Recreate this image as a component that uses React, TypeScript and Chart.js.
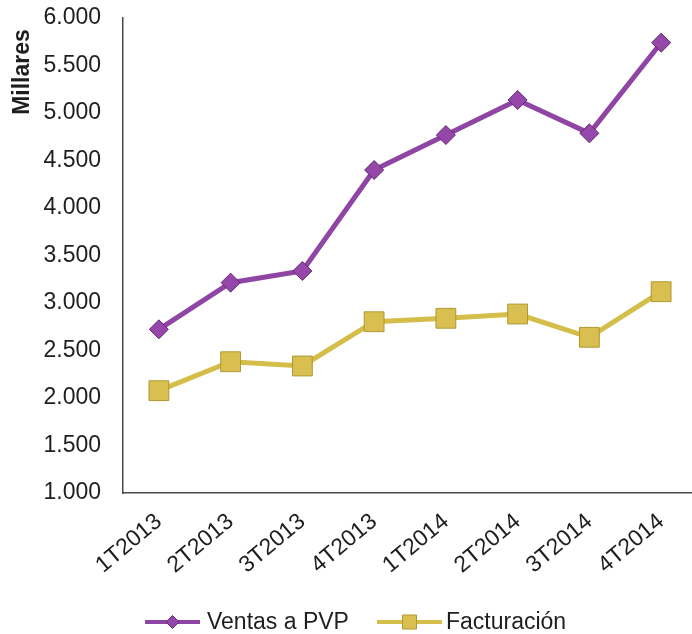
import React, { useEffect, useRef } from "react";
import { Chart, registerables } from "chart.js";

Chart.register(...registerables);

// ---- data ----
const categories = ["1T2013", "2T2013", "3T2013", "4T2013", "1T2014", "2T2014", "3T2014", "4T2014"];
const ventasPVP = [2723, 3214, 3337, 4400, 4768, 5137, 4786, 5740];
const facturacion = [2077, 2382, 2337, 2803, 2839, 2884, 2639, 3119];
const seriesNames = ["Ventas a PVP", "Facturación"];
const yAxisTitle = "Millares";
const yMin = 1000;
const yMax = 6000;
const yStep = 500;

// ---- styles ----
const FONT = '"Liberation Sans", Arial, Helvetica, sans-serif';
const TEXT = "#1e1e1e";
const AXIS = "#4a4a4a";
const PURPLE_LINE = "#8e45a3";
const PURPLE_FILL = "#9548aa";
const PURPLE_EDGE = "#62296f";
const GOLD_LINE = "#d5bd4a";
const GOLD_FILL = "#d8bf50";
const GOLD_EDGE = "#b09830";

const formatTick = (v: number) => (v / 1000).toFixed(3);

function drawDiamond(ctx: CanvasRenderingContext2D, x: number, y: number, r: number) {
  ctx.beginPath();
  ctx.moveTo(x - r, y);
  ctx.lineTo(x, y - r);
  ctx.lineTo(x + r, y);
  ctx.lineTo(x, y + r);
  ctx.closePath();
}

function drawSquare(ctx: CanvasRenderingContext2D, x: number, y: number, h: number) {
  ctx.beginPath();
  ctx.rect(x - h, y - h, 2 * h, 2 * h);
}

const overlayPlugin = {
  id: "overlay",
  afterDraw(chart: any) {
    const ctx: CanvasRenderingContext2D = chart.ctx;
    const area = chart.chartArea;

    // y-axis title
    ctx.save();
    ctx.font = `bold 23px ${FONT}`;
    ctx.fillStyle = TEXT;
    ctx.translate(22.5, area.top + 54);
    ctx.rotate(-Math.PI / 2);
    ctx.textAlign = "center";
    ctx.textBaseline = "middle";
    ctx.fillText(yAxisTitle, 0, 0);
    ctx.restore();

    // legend
    const ly = 622;
    const items = [
      { name: seriesNames[0], x0: 145, x1: 200, line: PURPLE_LINE, fill: PURPLE_FILL, edge: PURPLE_EDGE, shape: "diamond", tx: 207 },
      { name: seriesNames[1], x0: 377, x1: 442, line: GOLD_LINE, fill: GOLD_FILL, edge: GOLD_EDGE, shape: "square", tx: 446 },
    ];
    ctx.save();
    for (const it of items) {
      ctx.strokeStyle = it.line;
      ctx.lineWidth = 4;
      ctx.lineCap = "butt";
      ctx.beginPath();
      ctx.moveTo(it.x0, ly);
      ctx.lineTo(it.x1, ly);
      ctx.stroke();
      const cx = (it.x0 + it.x1) / 2;
      if (it.shape === "diamond") drawDiamond(ctx, cx, ly, 6.5);
      else drawSquare(ctx, cx, ly, 7);
      ctx.fillStyle = it.fill;
      ctx.fill();
      ctx.strokeStyle = it.edge;
      ctx.lineWidth = 1;
      ctx.stroke();
      ctx.font = `23px ${FONT}`;
      ctx.fillStyle = TEXT;
      ctx.textAlign = "left";
      ctx.textBaseline = "middle";
      ctx.fillText(it.name, it.tx, ly + 1);
    }
    ctx.restore();
  },
};

export default function App() {
  const canvasRef = useRef<HTMLCanvasElement | null>(null);

  useEffect(() => {
    const canvas = canvasRef.current;
    if (!canvas) return;
    const chart = new Chart(canvas, {
      type: "line",
      data: {
        labels: categories,
        datasets: [
          {
            label: seriesNames[0],
            data: ventasPVP,
            borderColor: PURPLE_LINE,
            borderWidth: 5,
            pointStyle: "rectRot",
            pointRadius: 9.5,
            pointBackgroundColor: PURPLE_FILL,
            pointBorderColor: PURPLE_EDGE,
            pointBorderWidth: 1,
            tension: 0,
            fill: false,
          },
          {
            label: seriesNames[1],
            data: facturacion,
            borderColor: GOLD_LINE,
            borderWidth: 5,
            pointStyle: "rect",
            pointRadius: 14,
            pointBackgroundColor: GOLD_FILL,
            pointBorderColor: GOLD_EDGE,
            pointBorderWidth: 1,
            tension: 0,
            fill: false,
          },
        ],
      },
      options: {
        animation: false,
        responsive: false,
        devicePixelRatio: 1,
        layout: { autoPadding: false, padding: { top: 18, right: 3, left: 0, bottom: 0 } },
        plugins: {
          legend: { display: false },
          tooltip: { enabled: false },
        },
        scales: {
          x: {
            type: "category",
            offset: true,
            grid: { display: false, drawTicks: false },
            border: { display: true, color: AXIS, width: 1.5 },
            ticks: {
              autoSkip: false,
              minRotation: 40,
              maxRotation: 40,
              padding: 15,
              color: TEXT,
              font: { family: FONT, size: 23 },
            },
            afterFit: (s: any) => {
              s.height = 141;
              s.paddingRight = 0;
            },
          },
          y: {
            min: yMin,
            max: yMax,
            grid: { display: false, drawTicks: false },
            border: { display: true, color: AXIS, width: 1.5 },
            ticks: {
              stepSize: yStep,
              padding: 22,
              color: TEXT,
              font: { family: FONT, size: 23 },
              callback: (v: any) => formatTick(Number(v)),
            },
            afterFit: (s: any) => {
              s.width = 123;
              s.paddingTop = 0;
              s.paddingBottom = 0;
            },
          },
        },
      },
      plugins: [overlayPlugin],
    });
    return () => chart.destroy();
  }, []);

  return (
    <div
      style={{
        position: "fixed",
        left: 0,
        top: 0,
        width: 692,
        height: 634,
        overflow: "hidden",
        background: "#ffffff",
      }}
    >
      <canvas ref={canvasRef} width={700} height={634} style={{ display: "block" }} />
    </div>
  );
}
